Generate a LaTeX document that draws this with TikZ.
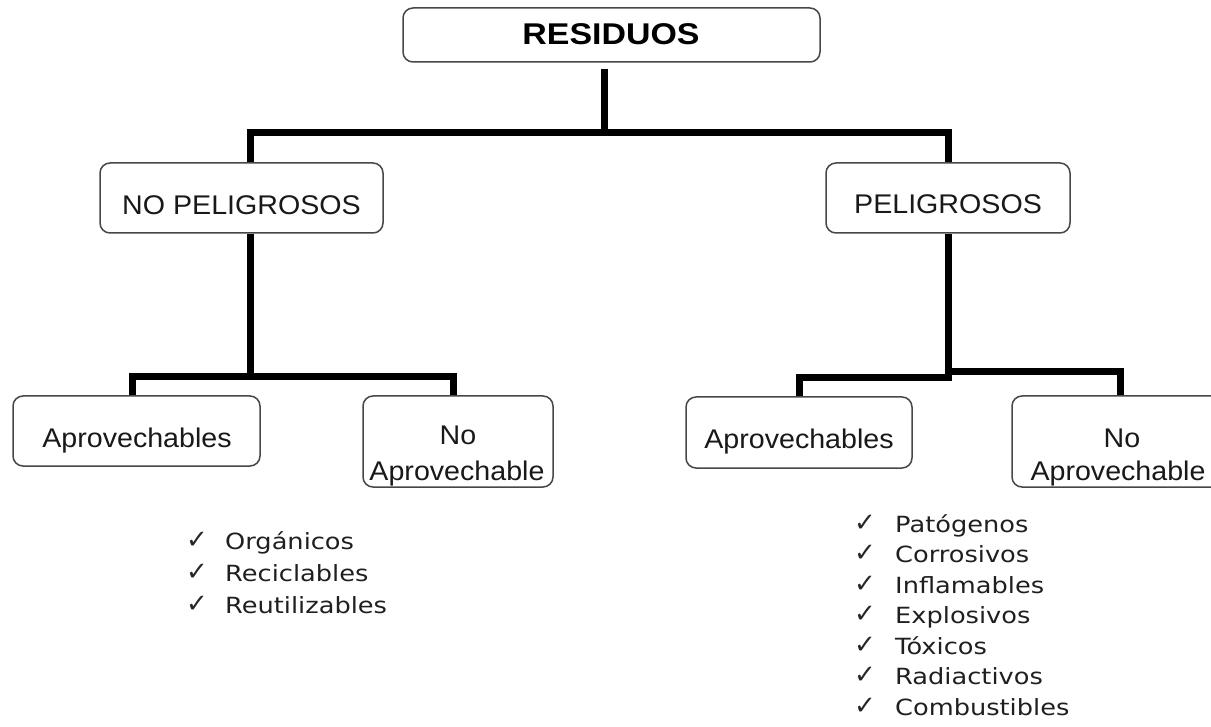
\documentclass[tikz,border=0pt]{standalone}
\usepackage{fontspec}
\setmainfont{Liberation Sans}
\newfontfamily\boxfont[FakeStretch=1.06]{Liberation Sans}
\newfontfamily\titlefont[FakeStretch=1.13]{Liberation Sans}
\newfontfamily\listfont[FakeStretch=1.15]{DejaVu Sans}
\newfontfamily\checkfont{DejaVu Sans}
\tikzset{
  box/.style={draw=black!72, line width=1.5pt, rounded corners=10pt, fill=white, inner sep=0pt},
  conn/.style={line width=7pt, line join=miter, draw=black},
  btext/.style={font=\boxfont\fontsize{27pt}{32pt}\selectfont, anchor=base, inner sep=0pt, text=black!90},
  ttext/.style={font=\titlefont\bfseries\fontsize{30pt}{36pt}\selectfont, anchor=base, inner sep=0pt},
  ltext/.style={font=\listfont\fontsize{22.3pt}{26pt}\selectfont, anchor=base west, inner sep=0pt, text=black!88},
  ckmark/.style={font=\checkfont\fontsize{26pt}{30pt}\selectfont, anchor=base west, inner sep=0pt, text=black!85}
}
\begin{document}
\begin{tikzpicture}[x=1pt,y=-1pt]
\useasboundingbox (0,0) rectangle (1211,727);

% boxes
\node[box, minimum width=417pt, minimum height=54pt] (res) at (611.5,35) {};
\node[box, minimum width=283pt, minimum height=70pt] (np) at (241.5,198) {};
\node[box, minimum width=244pt, minimum height=70pt] (p) at (948,198) {};
\node[box, minimum width=247pt, minimum height=70pt] (a1) at (136.5,431) {};
\node[box, minimum width=190pt, minimum height=91pt] (na1) at (458,441.5) {};
\node[box, minimum width=226pt, minimum height=71pt] (a2) at (799,432.5) {};
\node[box, minimum width=216pt, minimum height=91pt] (na2) at (1120,441.5) {};

% texts
\node[ttext] (rest) at (611,45) {RESIDUOS};
\node[btext] (npt) at (241.5,215) {NO PELIGROSOS};
\node[btext] (pt) at (948,214) {PELIGROSOS};
\node[btext] (a1t) at (137,447) {Aprovechables};
\node[btext] (na1t1) at (458,445) {No};
\node[btext] (na1t2) at (457,480) {Aprovechable};
\node[btext] (a2t) at (799,449) {Aprovechables};
\node[btext] (na2t1) at (1122,447) {No};
\node[btext] (na2t2) at (1118,480) {Aprovechable};

% junction coordinates
\coordinate (j0) at (604,133);
\coordinate (b1) at (250,133);
\coordinate (b2) at (948,133);
\coordinate (j1) at (250,377);
\coordinate (l1) at (132,377);
\coordinate (r1) at (453,377);
\coordinate (j2) at (948,378);
\coordinate (l2) at (799,378);
\coordinate (j3) at (948,372);
\coordinate (r2) at (1120,372);

% connectors
\draw[conn, shorten <=6pt] (res.south -| j0) -- (j0);
\draw[conn] (np.north -| b1) -- (b1) -- (b2) -- (p.north -| b2);
\draw[conn] (np.south -| j1) -- (j1);
\draw[conn] (a1.north -| l1) -- (l1) -- (r1) -- (na1.north -| r1);
\draw[conn] (p.south -| j2) -- (j2) -- (l2) -- (a2.north -| l2);
\draw[conn] (j3) -- (r2) -- (na2.north -| r2);

% left list
\foreach \t [count=\i from 0] in {Orgánicos,Reciclables,Reutilizables}{
  \node[ckmark] (lc\i) at (186,548+32*\i) {✓};
  \node[ltext] (lt\i) at (225,549+32*\i) {\t};
}
% right list
\foreach \t [count=\i from 0] in {Patógenos,Corrosivos,Inflamables,Explosivos,Tóxicos,Radiactivos,Combustibles}{
  \node[ckmark] (rc\i) at (854,531+30.5*\i) {✓};
  \node[ltext] (rt\i) at (895,532+30.5*\i) {\t};
}
\end{tikzpicture}
\end{document}
